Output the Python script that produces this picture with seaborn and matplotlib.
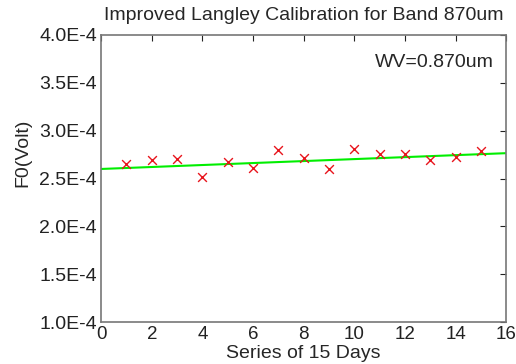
import numpy as np
import pandas as pd
import matplotlib
matplotlib.use("Agg")
import matplotlib.pyplot as plt
import seaborn as sns

# Daily F0 estimates (Volt)
days = [1, 2, 3, 4, 5, 6, 7, 8, 9, 10, 11, 12, 13, 14, 15]
f0 = [2.65e-4, 2.69e-4, 2.70e-4, 2.52e-4, 2.67e-4, 2.615e-4, 2.80e-4, 2.71e-4,
      2.60e-4, 2.81e-4, 2.76e-4, 2.76e-4, 2.69e-4, 2.73e-4, 2.79e-4]

# fitted calibration line (end points)
fit_x = [0, 16]
fit_y = [2.60e-4, 2.765e-4]

y_ticks = [1.0e-4, 1.5e-4, 2.0e-4, 2.5e-4, 3.0e-4, 3.5e-4, 4.0e-4]
y_tick_labels = ["1.0E-4", "1.5E-4", "2.0E-4", "2.5E-4", "3.0E-4", "3.5E-4", "4.0E-4"]
x_ticks = [0, 2, 4, 6, 8, 10, 12, 14, 16]

df = pd.DataFrame({"day": days, "f0": f0})
fit_df = pd.DataFrame({"day": fit_x, "f0": fit_y})

sns.set_style("white")
plt.rcParams["font.family"] = ["Liberation Sans", "DejaVu Sans"]

fig = plt.figure(figsize=(5.16, 3.64), dpi=100)
ax = fig.add_axes([0.196, 0.115, 0.785, 0.789])

sns.lineplot(data=fit_df, x="day", y="f0", color="#00ee00", linewidth=1.5, ax=ax)
sns.scatterplot(data=df, x="day", y="f0", marker="x", color="#e8141c", s=40,
                linewidth=1.0, ax=ax, zorder=3)

ax.set_xlim(0, 16)
ax.set_ylim(1.0e-4, 4.0e-4)
ax.set_xticks(x_ticks)
ax.set_yticks(y_ticks)
ax.set_yticklabels(y_tick_labels)
ax.tick_params(direction="in", length=4, width=0.8, top=True, right=True,
               labelsize=14, colors="#222222", pad=3)
ax.tick_params(axis="x", labelsize=13.5)
for s in ax.spines.values():
    s.set_color("#777777")
    s.set_linewidth(1.2)

ax.set_title("Improved Langley Calibration for Band 870um", fontsize=14, pad=11)
ax.set_xlabel("Series of 15 Days", fontsize=14, labelpad=1)
ax.set_ylabel("F0(Volt)", fontsize=14)
ax.yaxis.set_label_coords(-0.172, 0.59)
ax.text(0.97, 0.905, "WV=0.870um", transform=ax.transAxes, ha="right",
        va="center", fontsize=14)

fig.savefig("out.png", dpi=100)
